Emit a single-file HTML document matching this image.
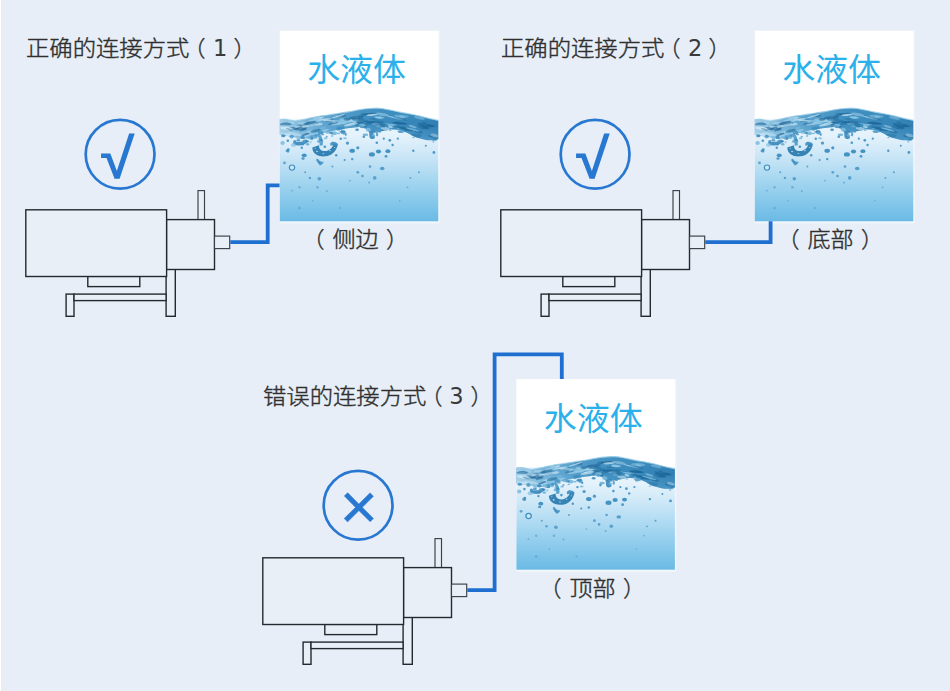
<!DOCTYPE html>
<html lang="zh-CN">
<head>
<meta charset="utf-8">
<title>连接方式</title>
<style>
html,body{margin:0;padding:0;background:#e7eef7;}
body{width:950px;height:691px;overflow:hidden;position:relative;font-family:"Liberation Sans","Noto Sans CJK SC",sans-serif;}
svg{position:absolute;left:0;top:0;display:block}
.t{font-family:"Liberation Sans","Noto Sans CJK SC",sans-serif;font-size:22px;font-weight:300;fill:#303030;stroke:#303030;stroke-width:0.4px}
.w{font-family:"Liberation Sans","Noto Sans CJK SC",sans-serif;font-size:32px;font-weight:400;fill:#2bb0ea}
.d{font-family:"DejaVu Sans","Liberation Sans",sans-serif;font-size:22.5px;font-weight:400;fill:#3a3a3a}
.k{font-family:"Liberation Sans",sans-serif;font-weight:700;fill:#2878d2}
.x{font-family:"Liberation Sans",sans-serif;font-weight:400;fill:#2878d2;stroke:#2878d2;stroke-width:0.4}
.ln{fill:#e8eff7;stroke:#25282f;stroke-width:1.4}
.ln2{fill:#e8eff7;stroke:#3c3f46;stroke-width:1.15}
.pipe{fill:none;stroke:#1f6fd1;stroke-width:3.8;stroke-linejoin:miter;stroke-linecap:butt}
.ring{fill:none;stroke:#2878d2;stroke-width:2.7}
</style>
</head>
<body>
<svg width="950" height="691" viewBox="0 0 950 691">
<defs>
  <linearGradient id="sea" x1="0" y1="0" x2="0" y2="1">
    <stop offset="0" stop-color="#eef7fc"/>
    <stop offset="0.16" stop-color="#e4f2fb"/>
    <stop offset="0.305" stop-color="#d3eaf8"/>
    <stop offset="0.646" stop-color="#9ed3ef"/>
    <stop offset="1" stop-color="#6abae5"/>
  </linearGradient>
  <linearGradient id="wv" gradientUnits="userSpaceOnUse" x1="0" y1="77" x2="0" y2="110">
    <stop offset="0" stop-color="#4594c4"/>
    <stop offset="0.5" stop-color="#3d8dbf"/>
    <stop offset="1" stop-color="#5aa6d2"/>
  </linearGradient>
  <linearGradient id="wh" gradientUnits="userSpaceOnUse" x1="0" y1="0" x2="158" y2="0">
    <stop offset="0" stop-color="#c4e3f4" stop-opacity="0.75"/>
    <stop offset="0.14" stop-color="#b3d9f0" stop-opacity="0.55"/>
    <stop offset="0.35" stop-color="#8cc4e4" stop-opacity="0.3"/>
    <stop offset="0.7" stop-color="#1f6ea5" stop-opacity="0.12"/>
    <stop offset="1" stop-color="#1a649a" stop-opacity="0.32"/>
  </linearGradient>
  <g id="pump">
    <rect class="ln2" x="198" y="190.6" width="6.5" height="29"/>
    <rect class="ln" x="166.1" y="269.3" width="9.2" height="47"/>
    <rect class="ln" x="66.1" y="294.1" width="7.9" height="22.2"/>
    <rect class="ln" x="74" y="294.1" width="92.1" height="6.5"/>
    <rect class="ln" x="87.8" y="276.4" width="52" height="10.2"/>
    <rect class="ln" x="25.8" y="209.8" width="140.8" height="66.7"/>
    <rect class="ln" x="166.7" y="219.6" width="47.8" height="49.9"/>
    <rect class="ln2" x="214.5" y="236.1" width="15.2" height="12.5"/>
  </g>
  <clipPath id="wclip"><path d="M0.0,88.9 C0.9,88.8 3.5,88.4 5.2,88.5 C6.9,88.6 8.5,89.2 10.2,89.5 C11.9,89.8 13.5,90.2 15.2,90.2 C16.9,90.2 18.5,89.8 20.2,89.5 C21.9,89.2 23.2,88.9 25.2,88.5 C27.2,88.1 29.7,87.4 32.2,86.9 C34.7,86.4 37.5,85.8 40.2,85.4 C42.9,85.0 45.7,84.7 48.2,84.3 C50.7,83.9 52.7,83.6 55.2,83.2 C57.7,82.8 60.7,82.3 63.2,81.9 C65.7,81.5 67.7,81.3 70.2,80.9 C72.7,80.5 75.9,79.7 78.2,79.3 C80.5,78.9 82.2,78.5 84.2,78.3 C86.2,78.0 88.2,77.9 90.2,77.8 C92.2,77.7 94.2,77.5 96.2,77.5 C98.2,77.5 99.9,77.5 102.2,77.8 C104.5,78.1 107.2,78.7 110.2,79.3 C113.2,79.9 116.9,80.8 120.2,81.5 C123.5,82.2 126.9,82.5 130.2,83.2 C133.5,83.9 136.9,84.6 140.2,85.4 C143.5,86.2 147.1,87.3 150.2,88.0 C153.2,88.7 157.1,89.4 158.5,89.7 L158.5,108.5 C157.4,108.7 154.2,109.5 152.2,109.6 C150.1,109.7 148.2,109.6 146.2,109.3 C144.2,109.0 142.2,108.5 140.2,107.9 C138.2,107.3 136.2,106.7 134.2,105.8 C132.2,104.9 130.4,103.5 128.2,102.5 C126.0,101.5 123.9,100.3 121.2,99.7 C118.5,99.1 114.7,98.9 112.2,98.9 C109.7,98.9 108.2,99.5 106.2,99.8 C104.2,100.1 102.2,100.6 100.2,100.8 C98.2,101.0 96.2,101.1 94.2,100.8 C92.2,100.5 90.2,99.5 88.2,98.8 C86.2,98.1 83.9,97.2 82.2,96.8 C80.5,96.4 80.2,96.2 78.2,96.3 C76.2,96.4 73.2,96.9 70.2,97.3 C67.2,97.7 63.2,98.4 60.2,98.9 C57.2,99.4 54.5,99.8 52.2,100.3 C49.9,100.8 48.2,101.3 46.2,101.8 C44.2,102.3 42.2,102.7 40.2,103.3 C38.2,103.9 36.2,104.6 34.2,105.3 C32.2,106.0 30.2,106.9 28.2,107.3 C26.2,107.7 24.2,107.9 22.2,107.8 C20.2,107.7 18.2,107.1 16.2,106.8 C14.2,106.5 12.0,106.1 10.2,105.8 C8.4,105.5 6.9,105.2 5.2,104.9 C3.5,104.7 0.9,104.4 0.0,104.3 Z"/></clipPath>
<g id="tank">
<rect x="0" y="0" width="160" height="192.8" fill="#f1f6fb"/>
<rect x="0" y="0" width="158.5" height="190.6" fill="#ffffff"/>
<rect x="0" y="88" width="158.5" height="102.6" fill="url(#sea)"/>
<path fill="url(#wv)" d="M0.0,88.9 C0.9,88.8 3.5,88.4 5.2,88.5 C6.9,88.6 8.5,89.2 10.2,89.5 C11.9,89.8 13.5,90.2 15.2,90.2 C16.9,90.2 18.5,89.8 20.2,89.5 C21.9,89.2 23.2,88.9 25.2,88.5 C27.2,88.1 29.7,87.4 32.2,86.9 C34.7,86.4 37.5,85.8 40.2,85.4 C42.9,85.0 45.7,84.7 48.2,84.3 C50.7,83.9 52.7,83.6 55.2,83.2 C57.7,82.8 60.7,82.3 63.2,81.9 C65.7,81.5 67.7,81.3 70.2,80.9 C72.7,80.5 75.9,79.7 78.2,79.3 C80.5,78.9 82.2,78.5 84.2,78.3 C86.2,78.0 88.2,77.9 90.2,77.8 C92.2,77.7 94.2,77.5 96.2,77.5 C98.2,77.5 99.9,77.5 102.2,77.8 C104.5,78.1 107.2,78.7 110.2,79.3 C113.2,79.9 116.9,80.8 120.2,81.5 C123.5,82.2 126.9,82.5 130.2,83.2 C133.5,83.9 136.9,84.6 140.2,85.4 C143.5,86.2 147.1,87.3 150.2,88.0 C153.2,88.7 157.1,89.4 158.5,89.7 L158.5,108.5 C157.4,108.7 154.2,109.5 152.2,109.6 C150.1,109.7 148.2,109.6 146.2,109.3 C144.2,109.0 142.2,108.5 140.2,107.9 C138.2,107.3 136.2,106.7 134.2,105.8 C132.2,104.9 130.4,103.5 128.2,102.5 C126.0,101.5 123.9,100.3 121.2,99.7 C118.5,99.1 114.7,98.9 112.2,98.9 C109.7,98.9 108.2,99.5 106.2,99.8 C104.2,100.1 102.2,100.6 100.2,100.8 C98.2,101.0 96.2,101.1 94.2,100.8 C92.2,100.5 90.2,99.5 88.2,98.8 C86.2,98.1 83.9,97.2 82.2,96.8 C80.5,96.4 80.2,96.2 78.2,96.3 C76.2,96.4 73.2,96.9 70.2,97.3 C67.2,97.7 63.2,98.4 60.2,98.9 C57.2,99.4 54.5,99.8 52.2,100.3 C49.9,100.8 48.2,101.3 46.2,101.8 C44.2,102.3 42.2,102.7 40.2,103.3 C38.2,103.9 36.2,104.6 34.2,105.3 C32.2,106.0 30.2,106.9 28.2,107.3 C26.2,107.7 24.2,107.9 22.2,107.8 C20.2,107.7 18.2,107.1 16.2,106.8 C14.2,106.5 12.0,106.1 10.2,105.8 C8.4,105.5 6.9,105.2 5.2,104.9 C3.5,104.7 0.9,104.4 0.0,104.3 Z"/>
<path fill="url(#wh)" d="M0.0,88.9 C0.9,88.8 3.5,88.4 5.2,88.5 C6.9,88.6 8.5,89.2 10.2,89.5 C11.9,89.8 13.5,90.2 15.2,90.2 C16.9,90.2 18.5,89.8 20.2,89.5 C21.9,89.2 23.2,88.9 25.2,88.5 C27.2,88.1 29.7,87.4 32.2,86.9 C34.7,86.4 37.5,85.8 40.2,85.4 C42.9,85.0 45.7,84.7 48.2,84.3 C50.7,83.9 52.7,83.6 55.2,83.2 C57.7,82.8 60.7,82.3 63.2,81.9 C65.7,81.5 67.7,81.3 70.2,80.9 C72.7,80.5 75.9,79.7 78.2,79.3 C80.5,78.9 82.2,78.5 84.2,78.3 C86.2,78.0 88.2,77.9 90.2,77.8 C92.2,77.7 94.2,77.5 96.2,77.5 C98.2,77.5 99.9,77.5 102.2,77.8 C104.5,78.1 107.2,78.7 110.2,79.3 C113.2,79.9 116.9,80.8 120.2,81.5 C123.5,82.2 126.9,82.5 130.2,83.2 C133.5,83.9 136.9,84.6 140.2,85.4 C143.5,86.2 147.1,87.3 150.2,88.0 C153.2,88.7 157.1,89.4 158.5,89.7 L158.5,108.5 C157.4,108.7 154.2,109.5 152.2,109.6 C150.1,109.7 148.2,109.6 146.2,109.3 C144.2,109.0 142.2,108.5 140.2,107.9 C138.2,107.3 136.2,106.7 134.2,105.8 C132.2,104.9 130.4,103.5 128.2,102.5 C126.0,101.5 123.9,100.3 121.2,99.7 C118.5,99.1 114.7,98.9 112.2,98.9 C109.7,98.9 108.2,99.5 106.2,99.8 C104.2,100.1 102.2,100.6 100.2,100.8 C98.2,101.0 96.2,101.1 94.2,100.8 C92.2,100.5 90.2,99.5 88.2,98.8 C86.2,98.1 83.9,97.2 82.2,96.8 C80.5,96.4 80.2,96.2 78.2,96.3 C76.2,96.4 73.2,96.9 70.2,97.3 C67.2,97.7 63.2,98.4 60.2,98.9 C57.2,99.4 54.5,99.8 52.2,100.3 C49.9,100.8 48.2,101.3 46.2,101.8 C44.2,102.3 42.2,102.7 40.2,103.3 C38.2,103.9 36.2,104.6 34.2,105.3 C32.2,106.0 30.2,106.9 28.2,107.3 C26.2,107.7 24.2,107.9 22.2,107.8 C20.2,107.7 18.2,107.1 16.2,106.8 C14.2,106.5 12.0,106.1 10.2,105.8 C8.4,105.5 6.9,105.2 5.2,104.9 C3.5,104.7 0.9,104.4 0.0,104.3 Z"/>
<g clip-path="url(#wclip)"><ellipse cx="71.8" cy="90.0" rx="7.6" ry="1.1" fill="#c9e8f7" opacity="0.62" transform="rotate(-10 71.8 90.0)"/><ellipse cx="75.4" cy="90.2" rx="3.5" ry="1.1" fill="#a9daf1" opacity="0.54" transform="rotate(-18 75.4 90.2)"/><ellipse cx="63.0" cy="89.8" rx="6.6" ry="1.3" fill="#a9daf1" opacity="0.32" transform="rotate(-6 63.0 89.8)"/><ellipse cx="30.9" cy="92.8" rx="2.7" ry="1.1" fill="#c9e8f7" opacity="0.56" transform="rotate(-13 30.9 92.8)"/><ellipse cx="79.2" cy="90.5" rx="5.0" ry="0.9" fill="#a9daf1" opacity="0.58" transform="rotate(-0 79.2 90.5)"/><ellipse cx="50.4" cy="88.7" rx="4.1" ry="0.7" fill="#23719f" opacity="0.50" transform="rotate(-3 50.4 88.7)"/><ellipse cx="150.7" cy="105.6" rx="2.5" ry="0.8" fill="#1a6192" opacity="0.52" transform="rotate(21 150.7 105.6)"/><ellipse cx="89.5" cy="83.3" rx="6.2" ry="1.0" fill="#1a6192" opacity="0.65" transform="rotate(-8 89.5 83.3)"/><ellipse cx="19.6" cy="94.8" rx="3.1" ry="0.7" fill="#15598b" opacity="0.53" transform="rotate(-3 19.6 94.8)"/><ellipse cx="30.9" cy="100.9" rx="3.2" ry="1.3" fill="#c9e8f7" opacity="0.30" transform="rotate(-20 30.9 100.9)"/><ellipse cx="136.0" cy="104.9" rx="5.8" ry="1.7" fill="#1b6699" opacity="0.37" transform="rotate(3 136.0 104.9)"/><ellipse cx="24.0" cy="97.5" rx="2.6" ry="1.3" fill="#1b6699" opacity="0.39" transform="rotate(-5 24.0 97.5)"/><ellipse cx="92.1" cy="84.2" rx="5.8" ry="1.0" fill="#dff1fa" opacity="0.63" transform="rotate(-4 92.1 84.2)"/><ellipse cx="22.4" cy="96.9" rx="5.9" ry="0.9" fill="#c9e8f7" opacity="0.36" transform="rotate(-16 22.4 96.9)"/><ellipse cx="99.3" cy="90.7" rx="6.3" ry="1.0" fill="#1b6699" opacity="0.39" transform="rotate(3 99.3 90.7)"/><ellipse cx="7.2" cy="103.9" rx="3.8" ry="1.4" fill="#dff1fa" opacity="0.42" transform="rotate(2 7.2 103.9)"/><ellipse cx="28.6" cy="101.5" rx="2.9" ry="0.9" fill="#a9daf1" opacity="0.41" transform="rotate(-11 28.6 101.5)"/><ellipse cx="144.3" cy="92.2" rx="2.6" ry="0.9" fill="#15598b" opacity="0.46" transform="rotate(13 144.3 92.2)"/><ellipse cx="84.0" cy="96.0" rx="3.0" ry="0.8" fill="#15598b" opacity="0.59" transform="rotate(-8 84.0 96.0)"/><ellipse cx="145.3" cy="97.7" rx="4.5" ry="0.9" fill="#1b6699" opacity="0.54" transform="rotate(5 145.3 97.7)"/><ellipse cx="115.2" cy="87.1" rx="8.0" ry="0.7" fill="#c9e8f7" opacity="0.62" transform="rotate(13 115.2 87.1)"/><ellipse cx="143.9" cy="95.0" rx="6.3" ry="1.6" fill="#1b6699" opacity="0.70" transform="rotate(22 143.9 95.0)"/><ellipse cx="90.6" cy="91.4" rx="4.6" ry="1.2" fill="#1b6699" opacity="0.75" transform="rotate(-2 90.6 91.4)"/><ellipse cx="138.4" cy="100.9" rx="4.6" ry="1.4" fill="#1b6699" opacity="0.56" transform="rotate(15 138.4 100.9)"/><ellipse cx="81.5" cy="85.0" rx="3.0" ry="0.6" fill="#1a6192" opacity="0.45" transform="rotate(0 81.5 85.0)"/><ellipse cx="3.0" cy="94.1" rx="6.2" ry="0.8" fill="#dff1fa" opacity="0.50" transform="rotate(-7 3.0 94.1)"/><ellipse cx="38.9" cy="93.5" rx="3.9" ry="1.3" fill="#c9e8f7" opacity="0.65" transform="rotate(-4 38.9 93.5)"/><ellipse cx="61.2" cy="91.9" rx="4.2" ry="0.7" fill="#a9daf1" opacity="0.58" transform="rotate(-9 61.2 91.9)"/><ellipse cx="149.4" cy="94.7" rx="3.4" ry="1.1" fill="#1a6192" opacity="0.50" transform="rotate(9 149.4 94.7)"/><ellipse cx="82.3" cy="90.7" rx="6.4" ry="1.5" fill="#1b6699" opacity="0.46" transform="rotate(-6 82.3 90.7)"/><ellipse cx="96.0" cy="93.1" rx="4.0" ry="1.0" fill="#c9e8f7" opacity="0.46" transform="rotate(3 96.0 93.1)"/><ellipse cx="30.8" cy="101.6" rx="4.0" ry="1.5" fill="#a9daf1" opacity="0.48" transform="rotate(-6 30.8 101.6)"/><ellipse cx="99.5" cy="92.7" rx="6.9" ry="1.7" fill="#1a6192" opacity="0.45" transform="rotate(7 99.5 92.7)"/><ellipse cx="112.6" cy="93.9" rx="5.4" ry="0.6" fill="#c9e8f7" opacity="0.46" transform="rotate(7 112.6 93.9)"/><ellipse cx="124.7" cy="98.6" rx="3.0" ry="1.6" fill="#1a6192" opacity="0.43" transform="rotate(14 124.7 98.6)"/><ellipse cx="139.6" cy="87.2" rx="5.5" ry="1.3" fill="#8fcbe9" opacity="0.49" transform="rotate(13 139.6 87.2)"/><ellipse cx="102.8" cy="83.7" rx="6.5" ry="1.5" fill="#c9e8f7" opacity="0.40" transform="rotate(10 102.8 83.7)"/><ellipse cx="62.1" cy="84.7" rx="4.2" ry="1.7" fill="#1b6699" opacity="0.49" transform="rotate(-0 62.1 84.7)"/><ellipse cx="14.1" cy="97.7" rx="5.5" ry="1.4" fill="#1b6699" opacity="0.52" transform="rotate(2 14.1 97.7)"/><ellipse cx="6.7" cy="97.7" rx="6.3" ry="1.6" fill="#dff1fa" opacity="0.68" transform="rotate(6 6.7 97.7)"/><ellipse cx="78.0" cy="94.7" rx="3.0" ry="0.8" fill="#15598b" opacity="0.56" transform="rotate(-10 78.0 94.7)"/><ellipse cx="132.8" cy="95.8" rx="4.2" ry="1.0" fill="#c9e8f7" opacity="0.42" transform="rotate(19 132.8 95.8)"/><ellipse cx="23.2" cy="99.3" rx="4.0" ry="1.1" fill="#1b6699" opacity="0.59" transform="rotate(-13 23.2 99.3)"/><ellipse cx="5.5" cy="103.7" rx="5.3" ry="1.0" fill="#dff1fa" opacity="0.34" transform="rotate(10 5.5 103.7)"/><ellipse cx="27.2" cy="105.3" rx="5.0" ry="1.6" fill="#c9e8f7" opacity="0.49" transform="rotate(-6 27.2 105.3)"/><ellipse cx="21.0" cy="97.7" rx="7.0" ry="1.6" fill="#15598b" opacity="0.52" transform="rotate(-10 21.0 97.7)"/><ellipse cx="5.8" cy="93.6" rx="6.4" ry="1.7" fill="#1b6699" opacity="0.62" transform="rotate(-5 5.8 93.6)"/><ellipse cx="51.4" cy="90.3" rx="5.9" ry="0.7" fill="#23719f" opacity="0.64" transform="rotate(-4 51.4 90.3)"/><ellipse cx="110.6" cy="96.1" rx="2.6" ry="1.3" fill="#c9e8f7" opacity="0.65" transform="rotate(18 110.6 96.1)"/><ellipse cx="84.5" cy="83.5" rx="3.7" ry="1.2" fill="#23719f" opacity="0.71" transform="rotate(-5 84.5 83.5)"/><ellipse cx="50.5" cy="89.9" rx="7.6" ry="0.8" fill="#c9e8f7" opacity="0.66" transform="rotate(1 50.5 89.9)"/><ellipse cx="21.9" cy="92.1" rx="4.6" ry="1.1" fill="#c9e8f7" opacity="0.38" transform="rotate(-2 21.9 92.1)"/><ellipse cx="99.2" cy="95.6" rx="3.0" ry="1.2" fill="#8fcbe9" opacity="0.35" transform="rotate(0 99.2 95.6)"/><ellipse cx="80.1" cy="92.0" rx="5.3" ry="1.4" fill="#1b6699" opacity="0.36" transform="rotate(-16 80.1 92.0)"/><ellipse cx="120.1" cy="92.6" rx="7.5" ry="1.1" fill="#15598b" opacity="0.69" transform="rotate(5 120.1 92.6)"/><ellipse cx="155.7" cy="106.7" rx="3.0" ry="0.7" fill="#1b6699" opacity="0.48" transform="rotate(18 155.7 106.7)"/><ellipse cx="74.0" cy="88.9" rx="4.9" ry="1.3" fill="#c9e8f7" opacity="0.37" transform="rotate(-21 74.0 88.9)"/><ellipse cx="72.0" cy="92.5" rx="4.7" ry="0.8" fill="#a9daf1" opacity="0.43" transform="rotate(-17 72.0 92.5)"/><ellipse cx="14.4" cy="103.4" rx="7.3" ry="1.6" fill="#c9e8f7" opacity="0.50" transform="rotate(10 14.4 103.4)"/><ellipse cx="154.5" cy="104.7" rx="3.9" ry="1.6" fill="#dff1fa" opacity="0.35" transform="rotate(16 154.5 104.7)"/><ellipse cx="52.7" cy="92.7" rx="4.5" ry="1.1" fill="#15598b" opacity="0.38" transform="rotate(-15 52.7 92.7)"/><ellipse cx="54.5" cy="91.4" rx="2.6" ry="1.0" fill="#c9e8f7" opacity="0.41" transform="rotate(-6 54.5 91.4)"/><ellipse cx="151.2" cy="95.5" rx="3.7" ry="1.0" fill="#1a6192" opacity="0.61" transform="rotate(6 151.2 95.5)"/><ellipse cx="110.6" cy="94.1" rx="7.9" ry="0.6" fill="#8fcbe9" opacity="0.48" transform="rotate(14 110.6 94.1)"/><ellipse cx="79.9" cy="92.0" rx="6.1" ry="0.6" fill="#23719f" opacity="0.57" transform="rotate(-15 79.9 92.0)"/><ellipse cx="80.4" cy="95.2" rx="5.6" ry="1.7" fill="#a9daf1" opacity="0.52" transform="rotate(-7 80.4 95.2)"/><ellipse cx="105.5" cy="98.0" rx="4.6" ry="1.6" fill="#dff1fa" opacity="0.52" transform="rotate(8 105.5 98.0)"/><ellipse cx="94.3" cy="88.1" rx="5.2" ry="0.9" fill="#23719f" opacity="0.54" transform="rotate(-3 94.3 88.1)"/><ellipse cx="43.3" cy="100.6" rx="6.1" ry="1.4" fill="#a9daf1" opacity="0.55" transform="rotate(-18 43.3 100.6)"/><ellipse cx="65.0" cy="92.8" rx="2.8" ry="0.9" fill="#8fcbe9" opacity="0.33" transform="rotate(-10 65.0 92.8)"/><ellipse cx="142.5" cy="96.2" rx="5.1" ry="1.7" fill="#1a6192" opacity="0.41" transform="rotate(9 142.5 96.2)"/><ellipse cx="151.0" cy="94.4" rx="6.4" ry="0.7" fill="#1b6699" opacity="0.49" transform="rotate(11 151.0 94.4)"/><ellipse cx="25.3" cy="96.0" rx="3.3" ry="1.1" fill="#dff1fa" opacity="0.45" transform="rotate(-10 25.3 96.0)"/><ellipse cx="117.2" cy="95.4" rx="3.3" ry="0.9" fill="#23719f" opacity="0.66" transform="rotate(5 117.2 95.4)"/><ellipse cx="98.7" cy="86.7" rx="4.0" ry="1.4" fill="#8fcbe9" opacity="0.60" transform="rotate(4 98.7 86.7)"/><ellipse cx="30.8" cy="92.9" rx="7.9" ry="1.6" fill="#1b6699" opacity="0.35" transform="rotate(-5 30.8 92.9)"/><ellipse cx="41.7" cy="87.0" rx="2.7" ry="0.8" fill="#c9e8f7" opacity="0.52" transform="rotate(-13 41.7 87.0)"/><ellipse cx="99.7" cy="87.0" rx="5.1" ry="0.8" fill="#a9daf1" opacity="0.62" transform="rotate(1 99.7 87.0)"/><ellipse cx="71.0" cy="93.8" rx="7.1" ry="1.4" fill="#dff1fa" opacity="0.62" transform="rotate(-11 71.0 93.8)"/><ellipse cx="58.8" cy="93.3" rx="7.9" ry="1.0" fill="#c9e8f7" opacity="0.47" transform="rotate(-8 58.8 93.3)"/><ellipse cx="58.8" cy="85.3" rx="7.3" ry="0.7" fill="#dff1fa" opacity="0.63" transform="rotate(-18 58.8 85.3)"/><ellipse cx="73.5" cy="93.5" rx="2.6" ry="0.9" fill="#8fcbe9" opacity="0.50" transform="rotate(-3 73.5 93.5)"/><ellipse cx="120.4" cy="88.1" rx="7.3" ry="0.8" fill="#1b6699" opacity="0.48" transform="rotate(14 120.4 88.1)"/><ellipse cx="70.0" cy="90.7" rx="7.5" ry="1.4" fill="#8fcbe9" opacity="0.48" transform="rotate(-14 70.0 90.7)"/><ellipse cx="35.7" cy="103.3" rx="6.5" ry="1.2" fill="#a9daf1" opacity="0.45" transform="rotate(-19 35.7 103.3)"/><ellipse cx="62.9" cy="88.8" rx="3.6" ry="1.2" fill="#c9e8f7" opacity="0.37" transform="rotate(-3 62.9 88.8)"/><ellipse cx="119.6" cy="96.8" rx="4.0" ry="0.6" fill="#23719f" opacity="0.74" transform="rotate(12 119.6 96.8)"/><ellipse cx="102.8" cy="95.4" rx="2.9" ry="1.2" fill="#1b6699" opacity="0.46" transform="rotate(13 102.8 95.4)"/><ellipse cx="17.6" cy="95.9" rx="2.6" ry="1.3" fill="#dff1fa" opacity="0.40" transform="rotate(-14 17.6 95.9)"/><ellipse cx="35.6" cy="100.1" rx="5.4" ry="1.4" fill="#23719f" opacity="0.62" transform="rotate(-13 35.6 100.1)"/><ellipse cx="78.2" cy="88.6" rx="6.5" ry="1.4" fill="#23719f" opacity="0.69" transform="rotate(-2 78.2 88.6)"/><ellipse cx="126.9" cy="98.2" rx="7.4" ry="1.7" fill="#1b6699" opacity="0.67" transform="rotate(13 126.9 98.2)"/><ellipse cx="67.0" cy="88.7" rx="3.3" ry="1.4" fill="#15598b" opacity="0.48" transform="rotate(1 67.0 88.7)"/><ellipse cx="61.9" cy="91.0" rx="4.0" ry="1.6" fill="#8fcbe9" opacity="0.56" transform="rotate(-9 61.9 91.0)"/><ellipse cx="122.2" cy="86.2" rx="2.8" ry="1.1" fill="#a9daf1" opacity="0.43" transform="rotate(12 122.2 86.2)"/><ellipse cx="32.0" cy="94.4" rx="5.7" ry="1.3" fill="#dff1fa" opacity="0.37" transform="rotate(-12 32.0 94.4)"/><ellipse cx="45.0" cy="88.7" rx="6.7" ry="0.9" fill="#dff1fa" opacity="0.64" transform="rotate(-7 45.0 88.7)"/><ellipse cx="76.8" cy="86.8" rx="7.8" ry="1.3" fill="#15598b" opacity="0.51" transform="rotate(-5 76.8 86.8)"/><ellipse cx="35.1" cy="90.0" rx="6.9" ry="1.7" fill="#a9daf1" opacity="0.56" transform="rotate(-5 35.1 90.0)"/><ellipse cx="38.3" cy="87.4" rx="5.1" ry="1.0" fill="#c9e8f7" opacity="0.47" transform="rotate(-4 38.3 87.4)"/><ellipse cx="121.6" cy="85.5" rx="7.5" ry="1.5" fill="#8fcbe9" opacity="0.51" transform="rotate(3 121.6 85.5)"/><ellipse cx="9.5" cy="98.8" rx="3.5" ry="0.8" fill="#15598b" opacity="0.38" transform="rotate(18 9.5 98.8)"/><ellipse cx="43.3" cy="97.3" rx="3.0" ry="1.1" fill="#8fcbe9" opacity="0.31" transform="rotate(-9 43.3 97.3)"/><ellipse cx="30.5" cy="92.1" rx="6.3" ry="1.5" fill="#1a6192" opacity="0.56" transform="rotate(-13 30.5 92.1)"/><ellipse cx="25.8" cy="103.7" rx="4.2" ry="0.9" fill="#1a6192" opacity="0.62" transform="rotate(-21 25.8 103.7)"/><ellipse cx="11.7" cy="92.1" rx="3.3" ry="1.3" fill="#a9daf1" opacity="0.56" transform="rotate(12 11.7 92.1)"/><ellipse cx="3.1" cy="95.2" rx="6.4" ry="0.9" fill="#a9daf1" opacity="0.64" transform="rotate(1 3.1 95.2)"/><ellipse cx="132.9" cy="98.8" rx="7.5" ry="0.8" fill="#8fcbe9" opacity="0.68" transform="rotate(15 132.9 98.8)"/><ellipse cx="119.0" cy="91.5" rx="3.0" ry="0.8" fill="#23719f" opacity="0.73" transform="rotate(9 119.0 91.5)"/><ellipse cx="89.0" cy="92.9" rx="4.3" ry="1.5" fill="#1b6699" opacity="0.40" transform="rotate(-12 89.0 92.9)"/></g>
<path d="M0.0,88.9 C0.9,88.8 3.5,88.4 5.2,88.5 C6.9,88.6 8.5,89.2 10.2,89.5 C11.9,89.8 13.5,90.2 15.2,90.2 C16.9,90.2 18.5,89.8 20.2,89.5 C21.9,89.2 23.2,88.9 25.2,88.5 C27.2,88.1 29.7,87.4 32.2,86.9 C34.7,86.4 37.5,85.8 40.2,85.4 C42.9,85.0 45.7,84.7 48.2,84.3 C50.7,83.9 52.7,83.6 55.2,83.2 C57.7,82.8 60.7,82.3 63.2,81.9 C65.7,81.5 67.7,81.3 70.2,80.9 C72.7,80.5 75.9,79.7 78.2,79.3 C80.5,78.9 82.2,78.5 84.2,78.3 C86.2,78.0 88.2,77.9 90.2,77.8 C92.2,77.7 94.2,77.5 96.2,77.5 C98.2,77.5 99.9,77.5 102.2,77.8 C104.5,78.1 107.2,78.7 110.2,79.3 C113.2,79.9 116.9,80.8 120.2,81.5 C123.5,82.2 126.9,82.5 130.2,83.2 C133.5,83.9 136.9,84.6 140.2,85.4 C143.5,86.2 147.1,87.3 150.2,88.0 C153.2,88.7 157.1,89.4 158.5,89.7" fill="none" stroke="#9fd0ea" stroke-width="1.2" opacity="0.8"/>
<path d="M 32.5,116.7 C 32.5,123.2 39.1,126.3 45.6,125.6 C 51.7,125.0 56.6,120.8 58.0,113.8 L 53.9,113.0 C 52.5,117.3 49.5,120.0 45.2,120.4 C 41.4,120.6 39.1,118.2 39.2,114.5 Z" fill="#2c7cb1" opacity="0.95"/><path d="M 39.1,102.8 C 41.7,104.1 43.4,108.4 43.0,114.5 L 39.8,115.0 C 40.1,110.2 39.1,106.7 37.3,104.1 Z" fill="#4b9aca" opacity="0.90"/><path d="M 50.4,112.8 C 52.1,110.2 55.6,111.0 58.2,113.2 L 56.5,116.3 C 54.7,114.5 52.5,114.1 50.8,115.4 Z" fill="#3a8bbd" opacity="0.90"/><path d="M 13.4,111.9 C 17.3,110.2 21.7,112.8 26.9,108.9 L 27.3,111.9 C 23.4,115.8 17.3,115.4 13.7,113.2 Z" fill="#3787ba" opacity="0.90"/><path d="M 88.6,98.0 C 91.2,100.6 95.6,104.1 95.2,106.7 C 94.3,108.9 90.4,108.9 89.7,106.3 C 89.3,104.1 90.4,101.5 86.9,98.9 Z" fill="#3787ba" opacity="0.90"/><path d="M 96.9,99.3 C 98.6,102.3 99.1,104.1 97.8,105.8 L 96.0,105.0 C 96.9,103.2 96.0,101.5 95.2,99.7 Z" fill="#4b9aca" opacity="0.85"/><ellipse cx="37.3" cy="120.8" rx="1.1" ry="0.8" fill="#cfe7f6" opacity="0.75"/><ellipse cx="43.6" cy="122.8" rx="0.9" ry="0.6" fill="#cfe7f6" opacity="0.75"/><ellipse cx="50.2" cy="120.0" rx="0.9" ry="0.6" fill="#cfe7f6" opacity="0.75"/><ellipse cx="54.9" cy="116.7" rx="0.7" ry="0.5" fill="#cfe7f6" opacity="0.75"/><ellipse cx="35.4" cy="117.6" rx="0.7" ry="0.5" fill="#cfe7f6" opacity="0.75"/><ellipse cx="46.9" cy="118.0" rx="0.6" ry="0.4" fill="#cfe7f6" opacity="0.75"/><ellipse cx="38.7" cy="130.8" rx="3.2" ry="1.3" fill="#3a8abd" opacity="0.85" transform="rotate(55 38.7 130.8)"/><ellipse cx="41.7" cy="132.8" rx="2.6" ry="1.1" fill="#4b9aca" opacity="0.85" transform="rotate(-40 41.7 132.8)"/><ellipse cx="23.2" cy="127.8" rx="1.6" ry="1.2" fill="#3a8abd" opacity="0.85" transform="rotate(0 23.2 127.8)"/><ellipse cx="7.7" cy="120.3" rx="1.9" ry="1.4" fill="#3a8abd" opacity="0.85" transform="rotate(20 7.7 120.3)"/><ellipse cx="41.1" cy="109.8" rx="2.1" ry="1.6" fill="#3686ba" opacity="0.88"/><ellipse cx="42.7" cy="103.7" rx="1.7" ry="0.9" fill="#2f7fb3" opacity="0.64"/><ellipse cx="48.0" cy="101.5" rx="2.1" ry="1.8" fill="#5ea8d3" opacity="0.60"/><ellipse cx="40.7" cy="101.7" rx="2.8" ry="1.9" fill="#2f7fb3" opacity="0.61"/><ellipse cx="11.9" cy="105.9" rx="2.1" ry="1.9" fill="#2f7fb3" opacity="0.62"/><ellipse cx="63.0" cy="97.3" rx="1.5" ry="0.9" fill="#2f7fb3" opacity="0.84"/><ellipse cx="38.7" cy="108.4" rx="1.2" ry="0.6" fill="#7ab9de" opacity="0.66"/><ellipse cx="32.0" cy="105.8" rx="3.2" ry="1.5" fill="#4d9bca" opacity="0.69"/><ellipse cx="36.3" cy="105.8" rx="1.9" ry="1.3" fill="#5ea8d3" opacity="0.88"/><ellipse cx="13.8" cy="114.2" rx="2.6" ry="1.9" fill="#7ab9de" opacity="0.64"/><ellipse cx="30.8" cy="111.4" rx="1.2" ry="1.2" fill="#7ab9de" opacity="0.58"/><ellipse cx="23.0" cy="113.7" rx="1.2" ry="1.0" fill="#3686ba" opacity="0.66"/><ellipse cx="52.3" cy="105.3" rx="1.2" ry="0.7" fill="#5ea8d3" opacity="0.90"/><ellipse cx="35.3" cy="105.3" rx="2.0" ry="1.2" fill="#7ab9de" opacity="0.57"/><ellipse cx="59.8" cy="97.7" rx="3.0" ry="1.5" fill="#2f7fb3" opacity="0.60"/><ellipse cx="58.6" cy="99.2" rx="1.8" ry="0.9" fill="#4d9bca" opacity="0.71"/><ellipse cx="65.2" cy="107.5" rx="1.9" ry="1.0" fill="#5ea8d3" opacity="0.65"/><ellipse cx="31.3" cy="107.3" rx="2.9" ry="1.6" fill="#3686ba" opacity="0.72"/><ellipse cx="22.9" cy="106.7" rx="2.2" ry="1.6" fill="#3686ba" opacity="0.82"/><ellipse cx="45.7" cy="107.6" rx="1.8" ry="0.9" fill="#7ab9de" opacity="0.89"/><ellipse cx="47.0" cy="105.9" rx="1.2" ry="0.9" fill="#4d9bca" opacity="0.66"/><ellipse cx="18.7" cy="108.0" rx="2.0" ry="1.4" fill="#7ab9de" opacity="0.81"/><ellipse cx="54.2" cy="102.5" rx="3.0" ry="1.9" fill="#5ea8d3" opacity="0.73"/><ellipse cx="35.1" cy="105.4" rx="2.4" ry="1.3" fill="#5ea8d3" opacity="0.78"/><ellipse cx="27.9" cy="113.5" rx="1.7" ry="1.2" fill="#5ea8d3" opacity="0.85"/><ellipse cx="18.5" cy="109.8" rx="2.1" ry="1.0" fill="#3686ba" opacity="0.79"/><ellipse cx="41.6" cy="101.8" rx="1.6" ry="0.7" fill="#4d9bca" opacity="0.89"/><ellipse cx="32.1" cy="108.4" rx="1.2" ry="0.8" fill="#3686ba" opacity="0.80"/><ellipse cx="25.1" cy="110.5" rx="2.7" ry="1.6" fill="#4d9bca" opacity="0.89"/><ellipse cx="36.4" cy="104.7" rx="1.7" ry="1.1" fill="#3686ba" opacity="0.60"/><ellipse cx="27.4" cy="110.6" rx="1.8" ry="1.1" fill="#2f7fb3" opacity="0.89"/><ellipse cx="63.2" cy="100.7" rx="2.4" ry="1.4" fill="#4d9bca" opacity="0.87"/><ellipse cx="35.7" cy="107.2" rx="1.9" ry="1.0" fill="#5ea8d3" opacity="0.65"/><ellipse cx="63.4" cy="101.7" rx="2.7" ry="1.8" fill="#3686ba" opacity="0.66"/><ellipse cx="17.3" cy="105.7" rx="1.2" ry="0.7" fill="#7ab9de" opacity="0.78"/><ellipse cx="62.7" cy="97.3" rx="0.9" ry="0.7" fill="#5ea8d3" opacity="0.65"/><ellipse cx="61.1" cy="101.1" rx="1.5" ry="0.8" fill="#2f7fb3" opacity="0.72"/><ellipse cx="64.7" cy="102.8" rx="2.0" ry="1.3" fill="#4d9bca" opacity="0.65"/><ellipse cx="46.5" cy="106.6" rx="0.9" ry="0.7" fill="#7ab9de" opacity="0.76"/><ellipse cx="3.5" cy="105.1" rx="2.2" ry="1.5" fill="#3686ba" opacity="0.83"/><ellipse cx="39.3" cy="110.8" rx="2.1" ry="1.4" fill="#5ea8d3" opacity="0.80"/><ellipse cx="58.7" cy="102.6" rx="1.6" ry="0.9" fill="#4d9bca" opacity="0.65"/><ellipse cx="51.2" cy="102.1" rx="2.1" ry="1.4" fill="#3686ba" opacity="0.74"/><ellipse cx="28.4" cy="106.6" rx="2.6" ry="1.6" fill="#7ab9de" opacity="0.78"/><ellipse cx="2.8" cy="112.4" rx="2.2" ry="2.0" fill="#5ea8d3" opacity="0.63"/><ellipse cx="42.5" cy="111.0" rx="1.3" ry="0.7" fill="#7ab9de" opacity="0.61"/><ellipse cx="82.1" cy="96.4" rx="1.1" ry="0.8" fill="#3686ba" opacity="0.58"/><ellipse cx="77.3" cy="99.1" rx="1.9" ry="1.2" fill="#2f7fb3" opacity="0.79"/><ellipse cx="93.3" cy="101.4" rx="2.8" ry="1.3" fill="#2f7fb3" opacity="0.77"/><ellipse cx="93.9" cy="104.6" rx="1.6" ry="1.1" fill="#7ab9de" opacity="0.84"/><ellipse cx="85.7" cy="104.0" rx="2.8" ry="1.3" fill="#5ea8d3" opacity="0.80"/><ellipse cx="99.4" cy="99.9" rx="1.1" ry="0.6" fill="#4d9bca" opacity="0.69"/><ellipse cx="92.3" cy="100.5" rx="2.1" ry="0.9" fill="#3686ba" opacity="0.60"/><ellipse cx="110.4" cy="99.8" rx="1.3" ry="0.6" fill="#5ea8d3" opacity="0.77"/><ellipse cx="88.3" cy="98.3" rx="2.3" ry="1.2" fill="#7ab9de" opacity="0.80"/><ellipse cx="88.5" cy="99.3" rx="2.7" ry="1.7" fill="#7ab9de" opacity="0.75"/><ellipse cx="102.6" cy="99.6" rx="0.8" ry="0.6" fill="#2f7fb3" opacity="0.88"/><ellipse cx="99.7" cy="101.0" rx="1.7" ry="0.8" fill="#3686ba" opacity="0.71"/><ellipse cx="82.3" cy="96.3" rx="2.1" ry="1.3" fill="#5ea8d3" opacity="0.65"/><ellipse cx="81.2" cy="96.1" rx="1.7" ry="1.2" fill="#4d9bca" opacity="0.66"/><ellipse cx="77.4" cy="95.0" rx="2.0" ry="1.6" fill="#2f7fb3" opacity="0.65"/><ellipse cx="100.2" cy="101.1" rx="1.3" ry="0.8" fill="#4d9bca" opacity="0.77"/><ellipse cx="153.6" cy="111.1" rx="1.1" ry="0.9" fill="#7ab9de" opacity="0.80"/><ellipse cx="122.9" cy="100.0" rx="2.5" ry="2.0" fill="#3686ba" opacity="0.55"/><ellipse cx="118.7" cy="100.5" rx="1.1" ry="0.7" fill="#3686ba" opacity="0.75"/><ellipse cx="154.7" cy="109.2" rx="2.8" ry="1.1" fill="#4d9bca" opacity="0.64"/><ellipse cx="118.3" cy="98.3" rx="1.3" ry="0.9" fill="#5ea8d3" opacity="0.86"/><ellipse cx="155.2" cy="108.5" rx="2.1" ry="1.0" fill="#2f7fb3" opacity="0.66"/><ellipse cx="120.6" cy="101.2" rx="2.1" ry="1.2" fill="#2f7fb3" opacity="0.68"/><ellipse cx="133.6" cy="106.9" rx="1.4" ry="0.6" fill="#4d9bca" opacity="0.71"/><ellipse cx="150.1" cy="108.3" rx="1.7" ry="0.8" fill="#4d9bca" opacity="0.69"/><ellipse cx="121.6" cy="100.3" rx="2.6" ry="1.5" fill="#5ea8d3" opacity="0.65"/>
<ellipse cx="24.4" cy="124.6" rx="2.5" ry="1.9" fill="#3589bd" opacity="0.90"/><ellipse cx="12.2" cy="136.9" rx="3.2" ry="2.4" fill="#3589bd" opacity="0.75"/><circle cx="40.4" cy="132.2" r="1.8" fill="#408fc3" opacity="0.75"/><circle cx="39.5" cy="148.1" r="1.8" fill="#408fc3" opacity="0.75"/><circle cx="37.6" cy="156.6" r="1.3" fill="#408fc3" opacity="0.50"/><circle cx="30.1" cy="147.2" r="1.2" fill="#408fc3" opacity="0.75"/><circle cx="19.7" cy="156.6" r="1.2" fill="#408fc3" opacity="0.50"/><circle cx="19.7" cy="177.3" r="1.2" fill="#408fc3" opacity="0.50"/><circle cx="47.0" cy="160.4" r="1.0" fill="#408fc3" opacity="0.50"/><circle cx="67.7" cy="112.4" r="1.6" fill="#408fc3" opacity="0.90"/><ellipse cx="72.4" cy="120.0" rx="2.8" ry="2.0" fill="#3589bd" opacity="0.90"/><circle cx="78.0" cy="117.1" r="1.6" fill="#408fc3" opacity="0.90"/><circle cx="72.4" cy="128.4" r="1.2" fill="#408fc3" opacity="0.90"/><ellipse cx="92.1" cy="123.7" rx="3.0" ry="2.2" fill="#3589bd" opacity="0.90"/><ellipse cx="98.7" cy="120.9" rx="2.6" ry="2.0" fill="#3589bd" opacity="0.90"/><ellipse cx="108.1" cy="120.5" rx="2.5" ry="1.9" fill="#3589bd" opacity="0.90"/><circle cx="106.2" cy="125.6" r="1.4" fill="#408fc3" opacity="0.90"/><ellipse cx="102.4" cy="137.8" rx="2.3" ry="1.7" fill="#3589bd" opacity="0.75"/><circle cx="90.2" cy="135.9" r="1.3" fill="#408fc3" opacity="0.75"/><circle cx="78.0" cy="141.6" r="1.4" fill="#408fc3" opacity="0.75"/><circle cx="82.7" cy="145.3" r="1.3" fill="#408fc3" opacity="0.75"/><circle cx="94.9" cy="147.2" r="1.8" fill="#408fc3" opacity="0.75"/><circle cx="89.3" cy="151.9" r="1.1" fill="#408fc3" opacity="0.50"/><circle cx="110.0" cy="109.6" r="1.4" fill="#408fc3" opacity="0.90"/><circle cx="112.8" cy="114.3" r="1.2" fill="#408fc3" opacity="0.90"/><circle cx="133.5" cy="120.0" r="1.2" fill="#408fc3" opacity="0.90"/><circle cx="154.1" cy="121.8" r="1.4" fill="#408fc3" opacity="0.90"/><circle cx="139.1" cy="141.6" r="1.0" fill="#408fc3" opacity="0.75"/><circle cx="130.6" cy="147.2" r="0.9" fill="#408fc3" opacity="0.75"/><circle cx="127.8" cy="156.6" r="0.9" fill="#408fc3" opacity="0.50"/><circle cx="56.4" cy="124.6" r="1.2" fill="#408fc3" opacity="0.90"/><circle cx="64.8" cy="129.3" r="1.0" fill="#408fc3" opacity="0.90"/><circle cx="52.6" cy="135.9" r="1.0" fill="#408fc3" opacity="0.75"/><circle cx="25.4" cy="141.6" r="1.0" fill="#408fc3" opacity="0.75"/><circle cx="8.5" cy="119.0" r="1.4" fill="#408fc3" opacity="0.90"/><circle cx="4.7" cy="132.2" r="1.4" fill="#408fc3" opacity="0.75"/><circle cx="60.1" cy="177.3" r="0.9" fill="#408fc3" opacity="0.50"/><circle cx="15.0" cy="111.0" r="1.6" fill="#408fc3" opacity="0.90"/><circle cx="22.0" cy="117.0" r="1.2" fill="#408fc3" opacity="0.90"/><circle cx="8.0" cy="110.0" r="1.3" fill="#408fc3" opacity="0.90"/><circle cx="84.0" cy="106.0" r="1.3" fill="#408fc3" opacity="0.90"/><circle cx="118.0" cy="108.0" r="1.1" fill="#408fc3" opacity="0.90"/><circle cx="146.0" cy="115.0" r="1.0" fill="#408fc3" opacity="0.90"/><circle cx="12.0" cy="160.0" r="0.9" fill="#408fc3" opacity="0.50"/><circle cx="33.0" cy="170.0" r="0.8" fill="#408fc3" opacity="0.50"/><circle cx="70.0" cy="150.0" r="0.9" fill="#408fc3" opacity="0.50"/><circle cx="120.0" cy="170.0" r="0.8" fill="#408fc3" opacity="0.50"/><circle cx="61.0" cy="108.0" r="1.2" fill="#408fc3" opacity="0.90"/><circle cx="66.0" cy="104.0" r="1.0" fill="#408fc3" opacity="0.90"/><circle cx="45.0" cy="116.0" r="1.3" fill="#408fc3" opacity="0.90"/><circle cx="97.0" cy="112.0" r="1.3" fill="#408fc3" opacity="0.90"/><circle cx="104.0" cy="108.0" r="1.1" fill="#408fc3" opacity="0.90"/><circle cx="12.2" cy="136.9" r="2.6" fill="#cfe8f6" stroke="#3e8fc2" stroke-width="1.1"/>
<text class="w" x="27.4" y="50.5" textLength="98.8" lengthAdjust="spacingAndGlyphs">水液体</text>
</g>
</defs>
<rect width="950" height="691" fill="#e7eef7"/>
<rect x="0" y="0" width="1" height="691" fill="#ffffff"/><rect x="1" y="0" width="3" height="691" fill="#e9edf1"/>

<!-- diagram 1 -->
<use href="#pump"/>
<path class="pipe" d="M230.3,242.2 H267.7 V185.4 H280"/>
<use href="#tank" x="279.8" y="30.7"/>
<circle class="ring" cx="120.1" cy="154.3" r="34.4"/>
<text class="k" transform="translate(101,178.03) scale(1.053,0.974)" font-size="58">√</text>
<text class="t" x="26" y="56" textLength="163.4" lengthAdjust="spacingAndGlyphs">正确的连接方式</text>
<text class="t" x="183.5" y="56">（</text><text class="d" x="213" y="55.5">1</text><text class="t" x="233.5" y="56">）</text>
<text class="t" x="302.5" y="247">（</text><text class="t" x="332.5" y="247" textLength="46.2" lengthAdjust="spacingAndGlyphs">侧边</text><text class="t" x="386" y="247">）</text>

<!-- diagram 2 -->
<g transform="translate(475,0)">
<use href="#pump"/>
<use href="#tank" x="279.8" y="30.7"/>
<path class="pipe" d="M230.3,242.2 H295.6 V221.2"/>
<circle class="ring" cx="120.1" cy="154.3" r="34.4"/>
<text class="k" transform="translate(101,178.03) scale(1.053,0.974)" font-size="58">√</text>
<text class="t" x="26" y="56" textLength="163.4" lengthAdjust="spacingAndGlyphs">正确的连接方式</text>
<text class="t" x="183.5" y="56">（</text><text class="d" x="213" y="55.5">2</text><text class="t" x="233.5" y="56">）</text>
<text class="t" x="302.5" y="247">（</text><text class="t" x="332.5" y="247" textLength="46.2" lengthAdjust="spacingAndGlyphs">底部</text><text class="t" x="386" y="247">）</text>
</g>

<!-- diagram 3 -->
<g transform="translate(237,348)">
<use href="#pump"/>
<path class="pipe" d="M230.3,242.2 H257.6 V6.3 H324.8 V31"/>
<use href="#tank" x="279.4" y="31.1"/>
<circle class="ring" cx="121.1" cy="157.3" r="34.4"/>
<text class="x" x="102.7" y="180.7" font-size="65.4">×</text>
<text class="t" x="26" y="56" textLength="163.4" lengthAdjust="spacingAndGlyphs">错误的连接方式</text>
<text class="t" x="183.5" y="56">（</text><text class="d" x="212.3" y="55.5">3</text><text class="t" x="233.5" y="56">）</text>
<text class="t" x="302.5" y="247.5">（</text><text class="t" x="332.5" y="247.5" textLength="46.2" lengthAdjust="spacingAndGlyphs">顶部</text><text class="t" x="386" y="247.5">）</text>
</g>
</svg>
</body>
</html>
